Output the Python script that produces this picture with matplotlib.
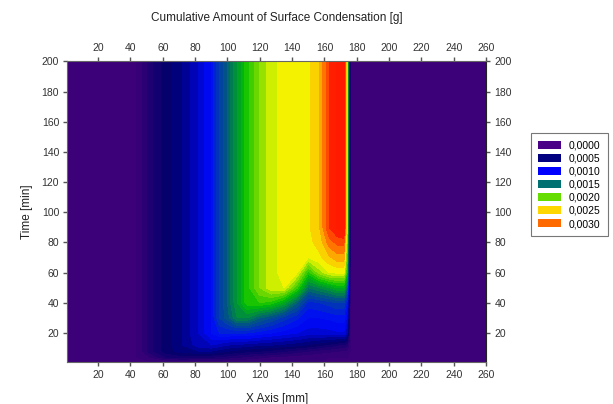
import numpy as np
import matplotlib.pyplot as plt
from matplotlib.colors import LinearSegmentedColormap
from matplotlib.patches import Patch

plt.rcParams['font.family'] = ['Liberation Sans', 'DejaVu Sans']

# grid: x position [mm], time [min]
x_mm = [1, 44, 52, 62, 72, 82, 90, 95, 100, 106, 112, 120, 127, 135, 143, 150, 157, 163, 168, 172, 174, 176, 260]
t_min = [1, 4, 8, 12, 20, 30, 40, 50, 60, 70, 80, 90, 200]

# cumulative condensation [g], one row per time
z_g = [
    # x: 1  44  52       62       72       82       90       95       100      106      112      120      127      135      143      150      157      163      168      172      174      176  260
    [0, 0, 0.00000, 0.00000, 0.00000, 0.00000, 0.00000, 0.00000, 0.00000, 0.00000, 0.00000, 0.00000, 0.00000, 0.00000, 0.00000, 0.00000, 0.00000, 0.00000, 0.00000, 0.00000, 0.00000, 0, 0],
    [0, 0, 0.00010, 0.00030, 0.00035, 0.00032, 0.00030, 0.00028, 0.00025, 0.00021, 0.00017, 0.00012, 0.00009, 0.00006, 0.00004, 0.00002, 0.00001, 0.00000, 0.00000, 0.00000, 0.00000, 0, 0],
    [0, 0, 0.00025, 0.00045, 0.00055, 0.00060, 0.00060, 0.00055, 0.00050, 0.00046, 0.00043, 0.00040, 0.00036, 0.00031, 0.00025, 0.00020, 0.00015, 0.00012, 0.00010, 0.00009, 0.00007, 0, 0],
    [0, 0, 0.00025, 0.00045, 0.00060, 0.00075, 0.00080, 0.00075, 0.00070, 0.00068, 0.00065, 0.00062, 0.00060, 0.00057, 0.00053, 0.00048, 0.00042, 0.00036, 0.00030, 0.00028, 0.00022, 0, 0],
    [0, 0, 0.00025, 0.00045, 0.00060, 0.00080, 0.00100, 0.00110, 0.00110, 0.00110, 0.00110, 0.00105, 0.00100, 0.00095, 0.00090, 0.00085, 0.00085, 0.00086, 0.00088, 0.00088, 0.00070, 0, 0],
    [0, 0, 0.00025, 0.00045, 0.00060, 0.00080, 0.00100, 0.00130, 0.00145, 0.00170, 0.00170, 0.00150, 0.00140, 0.00125, 0.00112, 0.00100, 0.00100, 0.00102, 0.00105, 0.00105, 0.00085, 0, 0],
    [0, 0, 0.00025, 0.00045, 0.00060, 0.00080, 0.00100, 0.00130, 0.00150, 0.00180, 0.00205, 0.00210, 0.00205, 0.00185, 0.00150, 0.00115, 0.00120, 0.00125, 0.00130, 0.00130, 0.00105, 0, 0],
    [0, 0, 0.00025, 0.00045, 0.00060, 0.00080, 0.00100, 0.00130, 0.00150, 0.00180, 0.00205, 0.00230, 0.00248, 0.00250, 0.00212, 0.00160, 0.00170, 0.00180, 0.00190, 0.00190, 0.00150, 0, 0],
    [0, 0, 0.00025, 0.00045, 0.00060, 0.00080, 0.00100, 0.00130, 0.00150, 0.00180, 0.00205, 0.00230, 0.00248, 0.00252, 0.00251, 0.00205, 0.00235, 0.00250, 0.00252, 0.00252, 0.00200, 0, 0],
    [0, 0, 0.00025, 0.00045, 0.00060, 0.00080, 0.00100, 0.00130, 0.00150, 0.00180, 0.00205, 0.00230, 0.00248, 0.00252, 0.00254, 0.00250, 0.00258, 0.00268, 0.00276, 0.00276, 0.00215, 0, 0],
    [0, 0, 0.00025, 0.00045, 0.00060, 0.00080, 0.00100, 0.00130, 0.00150, 0.00180, 0.00205, 0.00230, 0.00248, 0.00252, 0.00255, 0.00257, 0.00264, 0.00285, 0.00293, 0.00293, 0.00230, 0, 0],
    [0, 0, 0.00025, 0.00045, 0.00060, 0.00080, 0.00100, 0.00130, 0.00150, 0.00180, 0.00205, 0.00230, 0.00248, 0.00252, 0.00255, 0.00258, 0.00270, 0.00300, 0.00312, 0.00318, 0.00245, 0, 0],
    [0, 0, 0.00025, 0.00045, 0.00060, 0.00080, 0.00100, 0.00130, 0.00150, 0.00180, 0.00205, 0.00230, 0.00248, 0.00252, 0.00255, 0.00258, 0.00270, 0.00300, 0.00312, 0.00318, 0.00245, 0, 0],
]

legend_labels = ["0,0000", "0,0005", "0,0010", "0,0015", "0,0020", "0,0025", "0,0030"]
legend_colors = ["#4b0088", "#000080", "#0000ff", "#007070", "#66dd00", "#ffd700", "#ff6a00"]

x_ticks = list(range(20, 261, 20))
y_ticks = list(range(20, 201, 20))

# colour scale of the filled contours
cmap = LinearSegmentedColormap.from_list("cond", [
    (0.0 / 3.2, "#3c0078"),
    (0.5 / 3.2, "#00006c"),
    (1.0 / 3.2, "#0008ff"),
    (1.5 / 3.2, "#005c78"),
    (2.0 / 3.2, "#00c000"),
    (2.35 / 3.2, "#90e000"),
    (2.5 / 3.2, "#f0f800"),
    (2.6 / 3.2, "#f8ee00"),
    (2.8 / 3.2, "#ff9000"),
    (3.05 / 3.2, "#ff2000"),
    (3.2 / 3.2, "#ff1800"),
])

fig = plt.figure(figsize=(6.13, 4.04), dpi=100)
ax = fig.add_axes([0.110, 0.1047, 0.683, 0.7435])

levels = np.linspace(0, 0.0032, 33)
ax.contourf(x_mm, t_min, np.array(z_g), levels=levels, cmap=cmap, vmin=0, vmax=0.0032, extend='both')

ax.set_xlim(1, 260)
ax.set_ylim(1, 200)
ax.set_xticks(x_ticks)
ax.set_yticks(y_ticks)
ax.tick_params(direction='out', length=3, width=1, color='#555555', labelsize=7.5,
               labelcolor='#333333', top=True, right=True, labeltop=True, labelright=True, pad=3)
for side in ['left', 'bottom', 'top']:
    ax.spines[side].set_color('#666666')
ax.spines['right'].set_color('#222222')

fig.text(0.4515, 0.956, "Cumulative Amount of Surface Condensation [g]", ha='center', va='center',
         fontsize=8.5, color='#222222')
ax.set_xlabel("X Axis [mm]", fontsize=8.5, color='#222222', labelpad=9)
ax.set_ylabel("Time [min]", fontsize=8.5, color='#222222', labelpad=6)

handles = [Patch(facecolor=c, edgecolor='none') for c in legend_colors]
leg = fig.legend(handles, legend_labels, loc='upper left', bbox_to_anchor=(531 / 613, 1 - 133 / 404),
                 borderaxespad=0, fontsize=7.5, frameon=True, fancybox=False, handlelength=2.2,
                 handleheight=0.8, labelspacing=0.3, borderpad=0.7, handletextpad=0.7)
leg.get_frame().set_edgecolor('#555555')
leg.get_frame().set_linewidth(0.8)

fig.savefig("out.png", dpi=100)
